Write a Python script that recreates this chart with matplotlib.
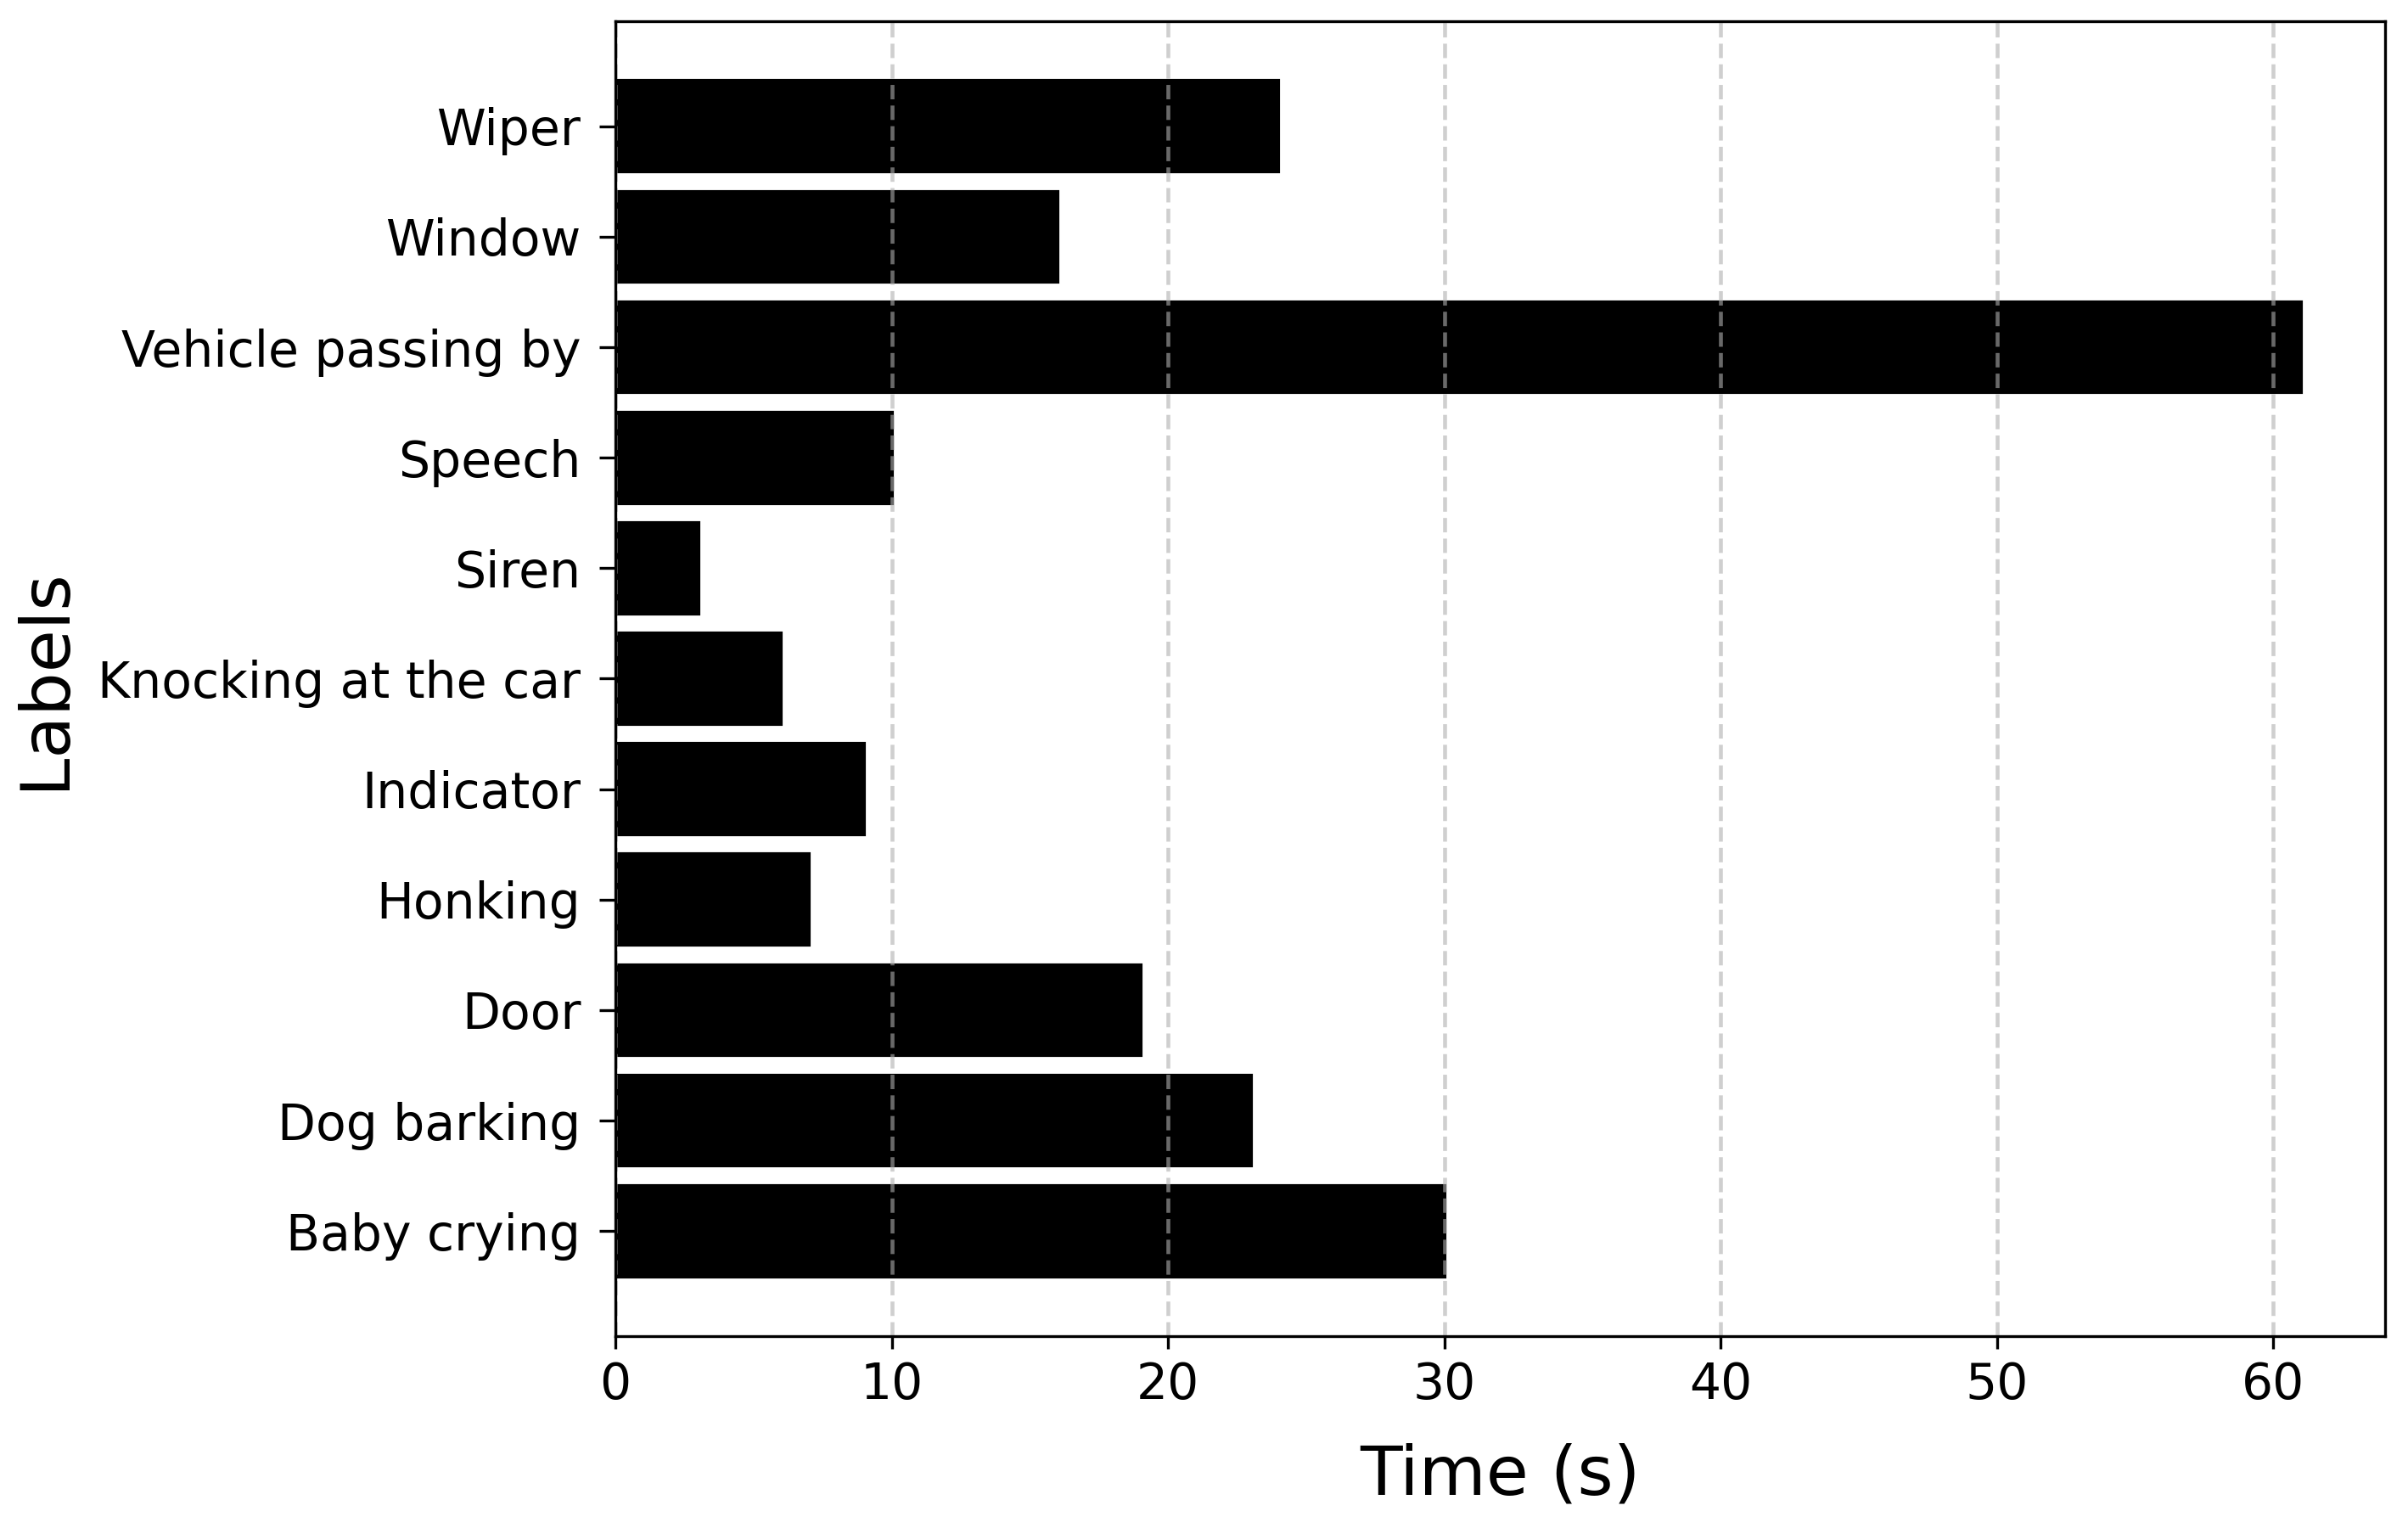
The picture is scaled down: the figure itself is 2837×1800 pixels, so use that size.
import matplotlib
matplotlib.use("Agg")
import matplotlib.pyplot as plt

# data
labels = [
    "Baby crying", "Dog barking", "Door", "Honking", "Indicator",
    "Knocking at the car", "Siren", "Speech", "Vehicle passing by",
    "Window", "Wiper",
]
durations = [30, 23, 19, 7, 9, 6, 3, 10, 61, 16, 24]

fig, ax = plt.subplots(figsize=(2837 / 300, 6), dpi=300)
fig.subplots_adjust(left=0.2556, right=0.9905, bottom=0.1256, top=0.9861)

ax.barh(labels, durations, color="black", edgecolor="black",
        linewidth=1.0, height=0.82)
ax.set_xlabel("Time (s)", fontsize=19.5, labelpad=9.5)
ax.set_ylabel("Labels", fontsize=19.5, labelpad=5.7)
ax.tick_params(axis="both", labelsize=14)
ax.tick_params(axis="y", length=4.5, pad=5.3)
# grid stays above the bars but under the spines
ax.grid(axis="x", linestyle="--", linewidth=1.1, alpha=0.6, zorder=1.5)

fig.savefig("out.png", dpi=300)
